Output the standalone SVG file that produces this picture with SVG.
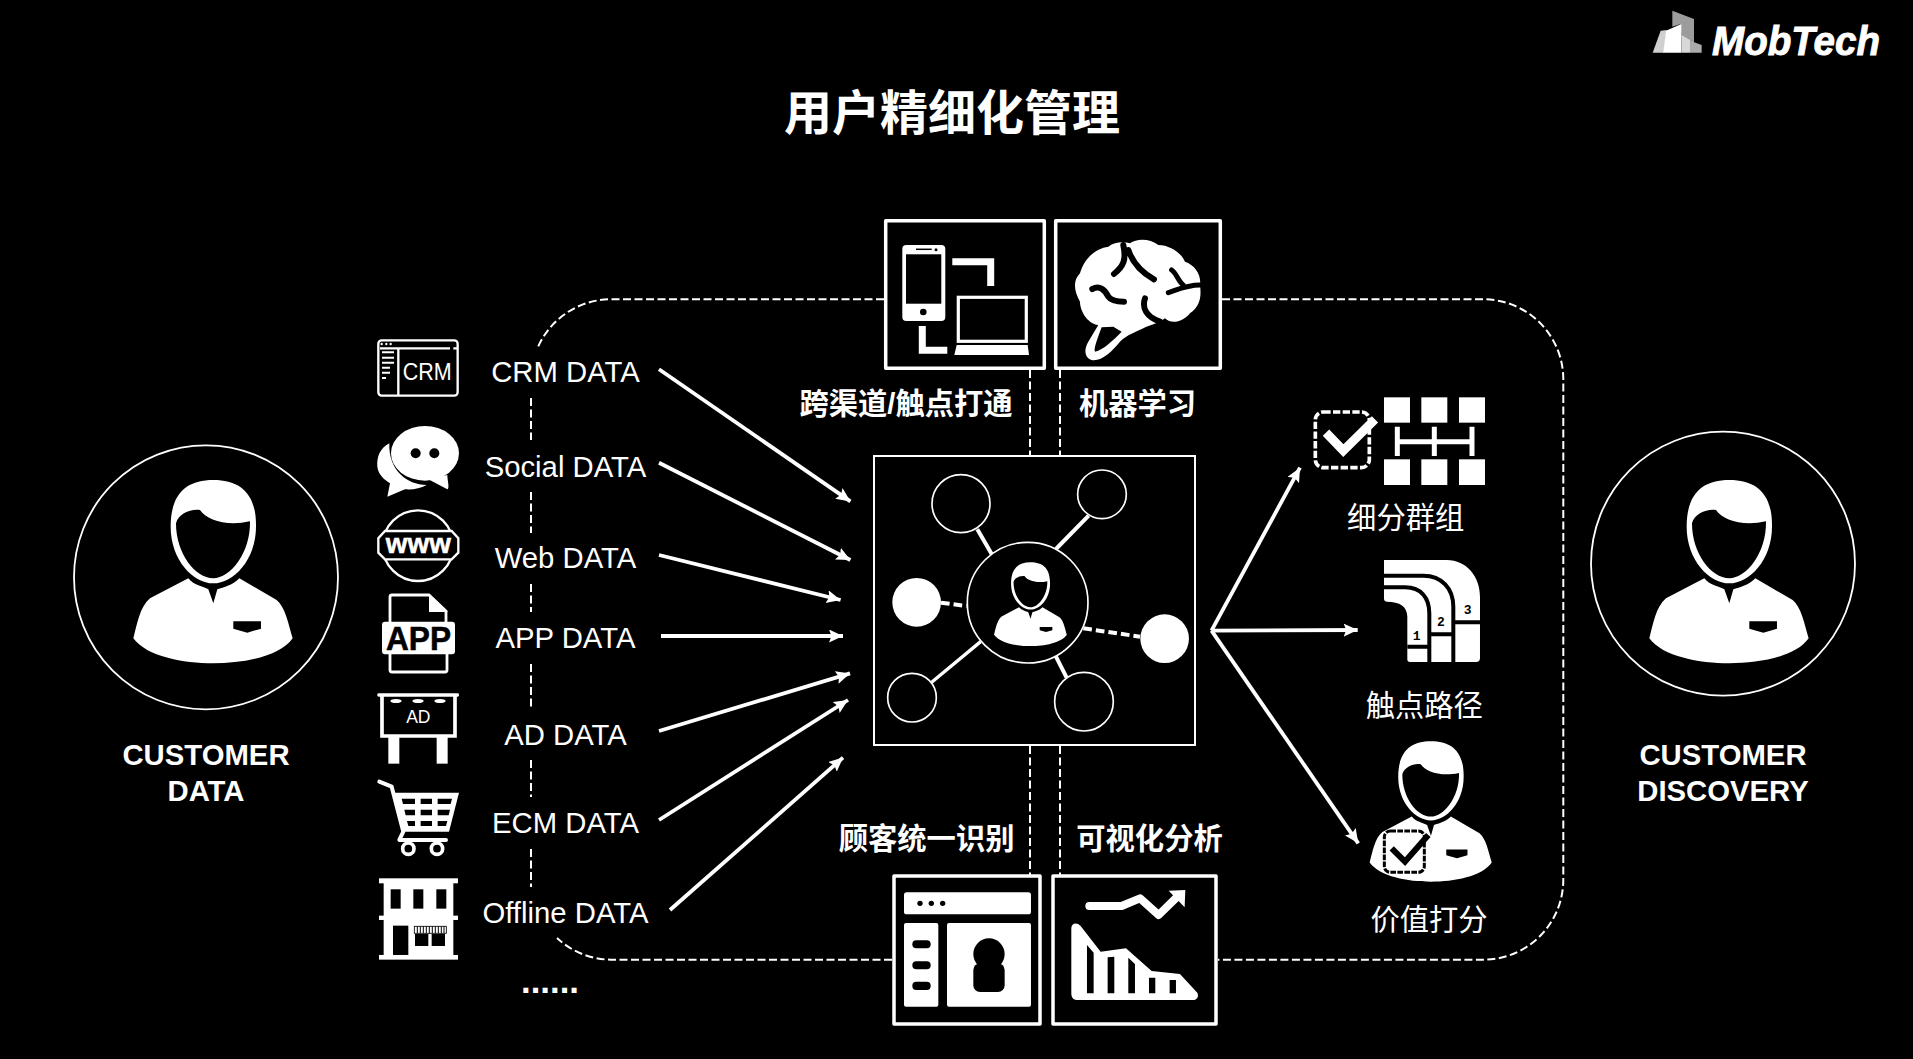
<svg xmlns="http://www.w3.org/2000/svg" xmlns:xlink="http://www.w3.org/1999/xlink" width="1913" height="1059" viewBox="0 0 1913 1059">
<style>
text{fill:#fff;font-family:"Liberation Sans",Arial,sans-serif;text-anchor:middle}
.d{font-size:29.300px}
.cu{font-size:29.300px;font-weight:bold}
.zb{font-family:"Liberation Sans","Noto Sans CJK SC",sans-serif;font-size:29.300px;font-weight:bold}
.zr{font-family:"Liberation Sans","Noto Sans CJK SC",sans-serif;font-size:29.300px}
.box{fill:#000;stroke:#fff;stroke-width:3.5;stroke-linejoin:round}
.dash{fill:none;stroke:#fff;stroke-width:2;stroke-dasharray:8 3.5}
.arr{fill:none;stroke:#fff;stroke-width:3.800;marker-end:url(#ah)}
.w{fill:#fff}.k{fill:#000}
.ko{fill:none;stroke:#000;stroke-linecap:round;stroke-linejoin:round}
.wo{fill:none;stroke:#fff}
.ring{fill:#000;stroke:#fff;stroke-width:1.8}
</style>
<defs>
<marker id="ah" markerUnits="userSpaceOnUse" markerWidth="16" markerHeight="14" refX="14" refY="6.5" orient="auto"><path d="M0 0L14 6.5L0 13L2.500 6.5Z" fill="#fff"/></marker>
<g id="person">
<path class="w" d="M460 150C540 150 590 190 588 290C588 390 520 460 460 460C400 460 332 390 332 290C332 190 380 150 460 150Z"/>
<path class="k" d="M348 280C355 250 395 235 420 240C440 270 500 290 570 274C572 370 510 445 460 445C405 445 348 370 348 280Z"/>
<path class="w" d="M385 445C400 465 430 470 445 478L460 520L472 478C490 472 520 465 538 445L650 510C675 530 685 580 698 625C660 680 550 700 460 700C370 700 260 680 220 625C232 580 240 530 270 505Z"/>
<path class="k" d="M520 574H603V596L562 608L520 596Z"/>
</g>
</defs>
<rect width="1913" height="1059" fill="#000"/>

<g id="connectors">
<g id="frame">
<path class="dash" d="M884 299.300H611A80 80 0 0 0 538 347"/>
<path class="dash" d="M1222 299.300H1483.300A80 80 0 0 1 1563.300 379.300V879.700A80 80 0 0 1 1483.300 959.700H1218"/>
<path class="dash" d="M892 959.700H611A80 80 0 0 1 557 938"/>
<path class="dash" d="M531 398V440M531 492V533M531 584V612M531 664V708M531 760V797M531 849V887"/>
<path class="dash" d="M1030 370V456M1060 370V456M1030 746V875M1060 746V875"/>
</g>
<path class="arr" d="M659 369.300L850.400 501.400"/>
<path class="arr" d="M659 462.700L850.400 560"/>
<path class="arr" d="M659 555L840.600 600"/>
<path class="arr" d="M661 636H843"/>
<path class="arr" d="M659 731L850 673.400"/>
<path class="arr" d="M659 820L848 700"/>
<path class="arr" d="M670 910L843 757.600"/>
<path class="arr" d="M1211.500 630.700L1300 467.700"/>
<path class="arr" d="M1211.500 630.700L1357.700 630"/>
<path class="arr" d="M1211.500 630.700L1358.300 843.300"/>
</g>

<g id="title"><text x="952" y="129.500" style="font-family:'Noto Sans CJK SC',sans-serif;font-size:48px;font-weight:bold">用户精细化管理</text></g>

<g id="logo">
<g transform="translate(1640 0) scale(.3333)">
<polygon points="97,32 162,57 162,130 124,110 122,72 97,80" fill="#9c9c9c"/>
<polygon points="62,92 80,90 72,158 38,158" fill="#cfcfcf"/>
<polygon points="78,92 124,72 124,158 70,158" fill="#fff"/>
<polygon points="124,105 150,120 150,158 124,158" fill="#d8d8d8"/>
<polygon points="150,122 185,135 185,158 150,158" fill="#ababab"/>
</g>
<text x="1796" y="55" textLength="168" lengthAdjust="spacingAndGlyphs" stroke="#fff" stroke-width=".9" style="font-size:41px;font-weight:bold;font-style:italic">MobTech</text>
</g>

<g id="customer-data">
<circle cx="206" cy="577.300" r="132" class="ring"/>
<use xlink:href="#person" href="#person" transform="translate(60 430) scale(.3333)"/>
<text class="cu" x="206" y="765">CUSTOMER</text><text class="cu" x="206" y="801">DATA</text>
</g>
<g id="customer-discovery">
<circle cx="1723" cy="563.700" r="132" class="ring"/>
<use xlink:href="#person" href="#person" transform="translate(1576 430) scale(.3333)"/>
<text class="cu" x="1723" y="765">CUSTOMER</text><text class="cu" x="1723" y="801">DISCOVERY</text>
</g>

<g id="crm">
<g transform="translate(360 320) scale(.3333)">
<rect x="55" y="61" width="238" height="166" rx="10" class="wo" stroke-width="7"/>
<path class="wo" stroke-width="7" d="M60 85H270M280 85H294M115 85V225"/>
<path class="wo" stroke-width="6" d="M66 97H102M66 113H102M66 128H102M66 143H90M66 158H90M66 174H78"/>
<circle cx="65" cy="72" r="3.500" class="w"/><circle cx="79" cy="72" r="3.500" class="w"/><circle cx="92" cy="72" r="3.500" class="w"/>
</g>
<text x="427.200" y="380" textLength="49" lengthAdjust="spacingAndGlyphs" style="font-size:23.500px">CRM</text>
<text class="d" x="565.500" y="382.300">CRM DATA</text>
</g>
<g id="social">
<g transform="translate(360 320) scale(.3333)">
<path class="w" d="M88 370C60 385 50 410 52 440C55 465 75 480 90 490L82 530L135 508C160 510 180 505 200 495C140 495 85 450 88 370Z"/>
<ellipse cx="195" cy="400" rx="102" ry="82" class="w"/>
<path class="w" d="M205 478L262 508C270 505 262 480 262 465Z"/>
<circle cx="167" cy="400" r="15" class="k"/><circle cx="223" cy="400" r="15" class="k"/>
</g>
<text class="d" x="565.500" y="476.700">Social DATA</text>
</g>
<g id="web">
<g transform="translate(360 320) scale(.3333)">
<circle cx="174" cy="677" r="106" class="wo" stroke-width="7"/>
<path d="M75 633H275L295 655V698L275 718H75L55 698V655Z" fill="#000" stroke="#fff" stroke-width="7"/>
</g>
<text x="418.300" y="553.300" textLength="65" lengthAdjust="spacingAndGlyphs" stroke="#fff" stroke-width=".5" style="font-size:27.700px;font-weight:bold">www</text>
<text class="d" x="565.500" y="568.300">Web DATA</text>
</g>
<g id="app">
<path d="M390 623V597Q390 595 392 595H429L446 611V623M390 654V670Q390 672 392 672H445Q447 672 447 670V654" fill="none" stroke="#fff" stroke-width="2.800"/>
<path class="w" d="M429 594L448 612H429Z"/>
<rect x="382" y="621.700" width="73" height="32.600" rx="3" class="w"/>
<text x="418.500" y="650" textLength="65" lengthAdjust="spacingAndGlyphs" stroke="#000" stroke-width=".6" style="font-size:34px;font-weight:bold;fill:#000">APP</text>
<text class="d" x="565.500" y="647.700">APP DATA</text>
</g>
<g id="ad">
<g transform="translate(360 660) scale(.3333)">
<rect x="52" y="100" width="245" height="10" rx="4" class="w"/>
<path class="wo" stroke-width="11" d="M66 105V228H285V105"/>
<rect x="85" y="230" width="33" height="81" class="w"/><rect x="230" y="230" width="33" height="81" class="w"/>
<ellipse cx="108" cy="123" rx="17" ry="6" class="w"/><ellipse cx="174" cy="123" rx="17" ry="6" class="w"/><ellipse cx="240" cy="123" rx="17" ry="6" class="w"/>
</g>
<text x="418.300" y="723.300" style="font-size:17.500px">AD</text>
<text class="d" x="565.500" y="745">AD DATA</text>
</g>
<g id="ecm">
<g transform="translate(360 660) scale(.3333)">
<path class="wo" stroke-width="12" stroke-linecap="round" stroke-linejoin="round" d="M58 365L95 380L130 515L118 540H258"/>
<path class="w" d="M103 398H297L267 515H130Z"/>
<path class="k" d="M125 416H165V432H129ZM182 416H216V432H182ZM233 416H276L272 432H233ZM133 449H165V466H137ZM182 449H216V466H182ZM233 449H270L266 466H233ZM141 483H165V498H145ZM182 483H216V498H182ZM233 483H262L258 498H233Z"/>
<circle cx="145" cy="566" r="17" fill="#000" stroke="#fff" stroke-width="11"/>
<circle cx="231" cy="566" r="17" fill="#000" stroke="#fff" stroke-width="11"/>
</g>
<text class="d" x="565.500" y="833.300">ECM DATA</text>
</g>
<g id="offline">
<g transform="translate(360 660) scale(.3333)">
<rect x="71" y="660" width="209" height="230" class="w"/>
<rect x="57" y="655" width="237" height="15" class="w"/><rect x="57" y="767" width="237" height="13" class="w"/><rect x="57" y="885" width="237" height="14" class="w"/>
<rect x="92" y="688" width="30" height="58" class="k"/><rect x="160" y="688" width="30" height="58" class="k"/><rect x="229" y="688" width="30" height="58" class="k"/>
<rect x="99" y="797" width="46" height="88" class="k"/>
<rect x="165" y="822" width="40" height="36" class="k"/><rect x="215" y="822" width="40" height="36" class="k"/>
<rect x="163" y="799" width="96" height="21" fill="#fff" stroke="#000" stroke-width="2.500"/>
<path stroke="#000" stroke-width="3" fill="none" d="M172 799V820M181 799V820M190 799V820M199 799V820M208 799V820M217 799V820M226 799V820M235 799V820M244 799V820M252 799V820"/>
</g>
<text class="d" x="565.500" y="923.300">Offline DATA</text>
</g>
<text id="more" x="550" y="992.700" style="font-size:34.800px;font-weight:bold">......</text>

<g id="channel">
<rect x="885.700" y="220.700" width="158.600" height="147.600" class="box"/>
<rect x="902.300" y="245" width="43" height="76" rx="4" class="w"/>
<rect x="906" y="254.300" width="35.300" height="49.400" class="k"/>
<circle cx="923.300" cy="312" r="3.300" class="k"/>
<path d="M916 249.300H931.700" stroke="#000" stroke-width="1.500"/><circle cx="936" cy="249.700" r="1.500" class="k"/>
<path class="wo" stroke-width="7" d="M952.300 261.700H990.700V286"/>
<path class="wo" stroke-width="7" d="M922.300 326V350.300H947.300"/>
<rect x="958.300" y="297.300" width="68" height="44" class="wo" stroke-width="3.200"/>
<path class="w" d="M956.700 345H1027.700L1029 355H954.300Z"/>
<text class="zb" x="906" y="414">跨渠道/触点打通</text>
</g>
<g id="ml">
<rect x="1055.700" y="220.700" width="164.600" height="147.600" class="box"/>
<g transform="translate(860 210) scale(.3333)">
<path class="w" d="M810 100C830 85 870 85 895 105C930 105 965 130 975 155C1005 165 1025 195 1020 225C1025 260 1020 290 990 310C970 335 935 345 915 325C895 340 870 345 850 355C830 365 800 375 780 395C755 425 725 455 695 450C675 445 670 420 685 395L715 345C680 340 660 300 660 275C640 240 640 210 660 190C675 140 710 115 745 110C765 95 790 95 810 100Z"/>
<path class="k" d="M725 352L760 350L785 365C760 390 730 420 705 425C700 415 715 380 725 352Z"/>
<path class="ko" stroke-width="18" d="M790 105C800 150 790 170 762 192M805 120C820 165 850 190 882 208M697 237C720 225 735 240 745 260C755 275 780 275 792 275M855 265C845 295 860 320 900 335"/>
<path class="ko" stroke-width="15" d="M935 180C950 190 955 215 970 225M925 248C950 240 980 225 1020 225"/>
</g>
<text class="zb" x="1137.500" y="414">机器学习</text>
</g>

<g id="hub">
<rect x="874" y="456" width="321" height="289" fill="#000" stroke="#fff" stroke-width="2"/>
<g transform="translate(860 450) scale(.3333)">
<path class="wo" stroke-width="12" d="M352 238L395 312M686 197L588 297M588 620L620 683"/>
<path class="wo" stroke-width="10" d="M215 697L362 575"/>
<path class="wo" stroke-width="12" stroke-dasharray="26 12" d="M243 458L320 468M670 535L840 560"/>
<circle cx="303" cy="161" r="87" fill="#000" stroke="#fff" stroke-width="5"/>
<circle cx="726" cy="133" r="73" fill="#000" stroke="#fff" stroke-width="5"/>
<circle cx="156" cy="743" r="73" fill="#000" stroke="#fff" stroke-width="5"/>
<circle cx="672" cy="755" r="88" fill="#000" stroke="#fff" stroke-width="5"/>
<circle cx="170" cy="457" r="73" class="w"/><circle cx="914" cy="566" r="73" class="w"/>
<circle cx="503" cy="458" r="181" fill="#000" stroke="#fff" stroke-width="5"/>
</g>
<use xlink:href="#person" href="#person" transform="translate(960.500 539.500) scale(.1523)"/>
</g>

<g id="identify">
<rect x="894" y="876" width="146" height="148" class="box"/>
<g transform="translate(880 820) scale(.3333)">
<rect x="72" y="217" width="381" height="66" rx="8" class="w"/>
<circle cx="120" cy="250" r="8" class="k"/><circle cx="154" cy="250" r="8" class="k"/><circle cx="188" cy="250" r="8" class="k"/>
<rect x="72" y="309" width="103" height="251" rx="6" class="w"/>
<rect x="201" y="309" width="252" height="251" rx="6" class="w"/>
<rect x="97" y="361" width="55" height="24" rx="12" class="k"/><rect x="97" y="424" width="55" height="24" rx="12" class="k"/><rect x="97" y="485" width="55" height="25" rx="12" class="k"/>
<circle cx="327" cy="402" r="47" class="k"/><rect x="280" y="430" width="94" height="86" rx="20" class="k"/>
</g>
<text class="zb" x="926.600" y="849">顾客统一识别</text>
</g>
<g id="visual">
<rect x="1053" y="876" width="163" height="148" class="box"/>
<g transform="translate(880 820) scale(.3333)">
<path class="wo" stroke-width="24" stroke-linecap="round" stroke-linejoin="round" d="M628 258H725L780 235L836 285L890 232"/>
<path class="w" d="M866 212L916 210L914 262Z"/>
<path class="w" d="M574 325C574 310 590 305 602 318L662 395L738 385L815 453L900 462L952 518C958 530 950 540 940 540H590C578 540 574 530 574 520Z"/>
<path class="k" d="M621 375L641 398V520H621ZM683 412L703 410V520H683ZM745 413L765 432V520H745ZM807 473H826V520H807ZM869 480H888V520H869Z"/>
</g>
<text class="zb" x="1149.500" y="849">可视化分析</text>
</g>

<g id="segments">
<g transform="translate(1290 380) scale(.3333)">
<rect x="76" y="96" width="162" height="167" rx="24" fill="none" stroke="#fff" stroke-width="11" stroke-dasharray="22 7"/>
<path d="M108 158L160 212L255 118" fill="none" stroke="#fff" stroke-width="27"/>
<rect x="282" y="52" width="78" height="76" class="w"/><rect x="394" y="52" width="78" height="76" class="w"/><rect x="507" y="52" width="78" height="76" class="w"/>
<rect x="282" y="238" width="78" height="77" class="w"/><rect x="394" y="238" width="78" height="77" class="w"/><rect x="507" y="238" width="78" height="77" class="w"/>
<path class="wo" stroke-width="15" d="M322 185H548M322 140V228M433 140V228M546 140V228"/>
</g>
<text class="zr" x="1405.700" y="528">细分群组</text>
</g>
<g id="touch">
<g transform="translate(1290 380) scale(.3333)">
<path class="w" d="M282 540H470C530 540 570 590 570 650V835Q570 846 558 846H360Q352 846 352 838V710C352 680 330 665 290 665Q282 665 282 655Z"/>
<path class="ko" style="stroke-linecap:butt" stroke-width="12" d="M282 587H400C455 587 490 625 490 680V846M282 622H345C395 622 418 655 418 700V846M352 800H418M418 763H490M490 727H570"/>
</g>
<text x="1416.700" y="640" style="font-size:13px;font-weight:bold;fill:#000;font-family:'Liberation Mono',monospace">1</text>
<text x="1441" y="626" style="font-size:13px;font-weight:bold;fill:#000;font-family:'Liberation Mono',monospace">2</text>
<text x="1467.700" y="614" style="font-size:13px;font-weight:bold;fill:#000;font-family:'Liberation Mono',monospace">3</text>
<text class="zr" x="1424.300" y="716">触点路径</text>
</g>
<g id="value">
<use xlink:href="#person" href="#person" transform="translate(1313.400 702.900) scale(.2555)"/>
<g transform="translate(1340 720) scale(.3333)">
<rect x="133" y="333" width="120" height="124" rx="18" fill="#fff" stroke="#000" stroke-width="9" stroke-dasharray="17 4"/>
<path d="M155 385L195 425L265 345" fill="none" stroke="#000" stroke-width="18"/>
</g>
<text class="zr" x="1429" y="930">价值打分</text>
</g>
</svg>
